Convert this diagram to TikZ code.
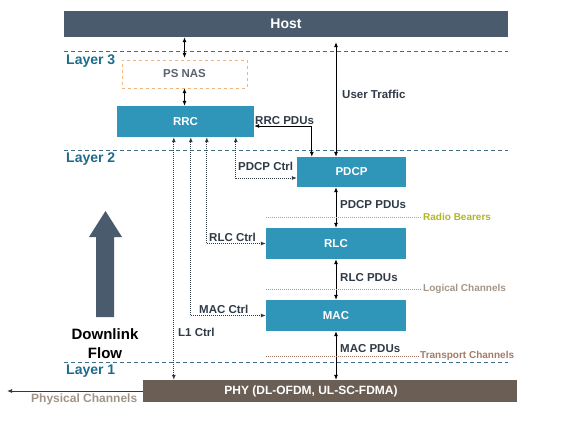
\documentclass[tikz,border=0pt]{standalone}
\usepackage{fontspec}
\setmainfont{Liberation Sans}
\usetikzlibrary{arrows.meta}
\definecolor{hostgray}{HTML}{4A5B6D}
\definecolor{boxblue}{HTML}{2F95B9}
\definecolor{phybrown}{HTML}{6B5E55}
\definecolor{layerblue}{HTML}{1E6C8C}
\definecolor{lineblue}{HTML}{3F6E88}
\definecolor{labelgray}{HTML}{2F3A47}
\definecolor{nastext}{HTML}{5A6270}
\definecolor{nasorange}{HTML}{F2B47E}
\definecolor{bearer}{HTML}{B2B624}
\definecolor{logical}{HTML}{A39689}
\definecolor{transport}{HTML}{A57A66}
\definecolor{physgray}{HTML}{A09488}

\begin{document}
\begin{tikzpicture}[x=1pt,y=-1pt,
	blk/.style={fill=boxblue,text=white,inner sep=0,minimum height=31pt,
		font=\bfseries\fontsize{11.5}{13}\selectfont},
	lbl/.style={anchor=west,text=labelgray,inner sep=0,
		font=\bfseries\fontsize{11.5}{13}\selectfont},
	lay/.style={anchor=west,text=layerblue,inner sep=0,
		font=\bfseries\fontsize{14}{16}\selectfont},
	chn/.style={anchor=west,inner sep=0,font=\bfseries\fontsize{10}{12}\selectfont},
	layline/.style={lineblue,line width=0.8pt,dash pattern=on 4pt off 3pt},
	chline/.style={line width=0.8pt,dash pattern=on 1pt off 1pt,shorten >=2pt},
	pdu/.style={{Latex[length=5pt,width=4pt]}-{Latex[length=5pt,width=4pt]},line width=0.8pt},
	ctrl/.style={pdu,labelgray,dash pattern=on 1pt off 1pt}]
\useasboundingbox (0,0) rectangle (579,424);
% host and layers
\node[blk,fill=hostgray,minimum width=444pt,minimum height=26pt,
	font=\bfseries\fontsize{14}{16}\selectfont] (host) at (286,24) {Host};
\draw[layline] (64,51) -- (508,51);
\draw[layline] (64,150) -- (508,150);
\draw[layline] (64,362) -- (508,362);
\node[lay] (l3) at (66,61) {Layer 3};
\node[lay] (l2) at (66,159) {Layer 2};
\node[lay] (l1) at (66,371) {Layer 1};
% protocol blocks
\node[draw=nasorange,dashed,minimum width=125pt,minimum height=28pt,text=nastext,
	font=\bfseries\fontsize{11.5}{13}\selectfont] (nas) at (184.5,74) {PS NAS};
\node[blk,minimum width=137pt] (rrc) at (185.5,121.5) {RRC};
\node[blk,minimum width=109pt,minimum height=30pt] (pdcp) at (351.5,172) {PDCP};
\node[blk,minimum width=140pt] (rlc) at (336,243.5) {RLC};
\node[blk,minimum width=140pt] (mac) at (336,315.5) {MAC};
\node[blk,fill=phybrown,minimum width=374pt,minimum height=22pt,
	label={[xshift=-19pt,text=white,font=\bfseries\fontsize{12}{14}\selectfont]center:PHY (DL-OFDM, UL-SC-FDMA)}] (phy) at (330,391) {};
% data path
\draw[pdu,shorten <=2pt] (nas.north) -- (nas.north |- host.south);
\draw[pdu] (nas.south) -- (nas.south |- rrc.north);
\draw[pdu,shorten >=5pt] (rlc.north |- pdcp.north) -- (rlc.north |- host.south);
\node[lbl] (traffic) at (342,94) {User Traffic};
\draw[pdu] ([yshift=-4.5pt]rrc.east) -| ([xshift=15pt]pdcp.north west);
\node[lbl] (rrcpdu) at (255,121) {RRC PDUs};
\draw[pdu] (rlc.north |- pdcp.south) -- (rlc.north);
\node[lbl] (pdcppdu) at (340,205) {PDCP PDUs};
\draw[pdu] (rlc.south) -- (mac.north);
\node[lbl] (rlcpdu) at (340,278) {RLC PDUs};
\draw[pdu] (mac.south) -- (mac.south |- phy.north);
\node[lbl] (macpdu) at (340,349) {MAC PDUs};
% control path
\coordinate (l1top) at ([xshift=57pt]rrc.south west);
\coordinate (mactop) at ([xshift=74pt]rrc.south west);
\coordinate (rlctop) at ([xshift=90pt]rrc.south west);
\coordinate (pdcptop) at ([xshift=119pt]rrc.south west);
\draw[ctrl] (pdcptop) |- ([yshift=-6pt]pdcp.west);
\node[lbl] (pdcpctrl) at (238,166) {PDCP Ctrl};
\draw[ctrl] (rlctop) |- (rlc.west);
\node[lbl] (rlcctrl) at (209,237) {RLC Ctrl};
\draw[ctrl] (mactop) |- (mac.west);
\node[lbl] (macctrl) at (199,309) {MAC Ctrl};
\draw[ctrl] (l1top) -- (l1top |- phy.north);
\node[lbl] (l1ctrl) at (178,332) {L1 Ctrl};
% channels
\node[chn,text=bearer] (rb) at (423,217) {Radio Bearers};
\draw[chline,bearer] (rlc.west |- rb.west) -- (rb.west);
\node[chn,text=logical] (lc) at (423,289) {Logical Channels};
\draw[chline,logical] (rlc.west |- lc.west) -- (lc.west);
\node[chn,text=transport] (tc) at (420,356) {Transport Channels};
\draw[chline,transport] (rlc.west |- tc.west) -- (tc.west);
\coordinate (air) at (7,391);
\draw[-{Latex[length=5pt,width=4pt]},line width=0.8pt,labelgray] (phy.west) -- (air);
\node[chn,text=physgray,font=\bfseries\fontsize{12}{14}\selectfont] (pc) at (31,399) {Physical Channels};
% downlink flow
\fill[hostgray] (96,317) -- (96,237) -- (89,237) -- (105.5,211) -- (122,237)
	-- (114,237) -- (114,317) -- cycle;
\node[align=center,font=\bfseries\fontsize{15}{19.5}\selectfont] (flow) at (105,343.5) {Downlink\\Flow};
\end{tikzpicture}
\end{document}
